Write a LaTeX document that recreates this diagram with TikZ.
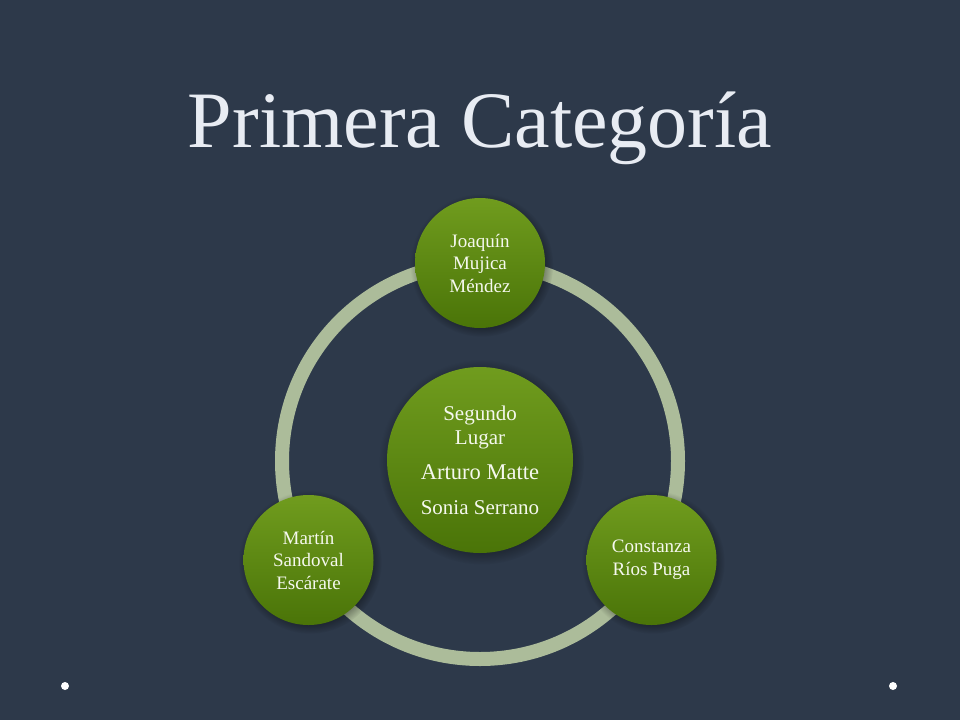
\documentclass[tikz,border=0pt]{standalone}
\usepackage{fontspec}
\setmainfont{Liberation Serif}
\usetikzlibrary{shadows}
\definecolor{bg}{RGB}{45,57,74}
\definecolor{gtop}{RGB}{112,156,30}
\definecolor{gbot}{RGB}{74,116,8}
\definecolor{ringc}{RGB}{172,188,154}
\definecolor{txt}{RGB}{245,248,238}
\definecolor{titlec}{RGB}{232,236,243}
\tikzset{
  greenball/.style={circle, shading=axis, top color=gtop, bottom color=gbot, shading angle=0,
    draw=none, text=txt, align=center, inner sep=0pt,
    circular drop shadow={shadow xshift=1.5pt, shadow yshift=-2pt, opacity=0.35, fill=black}},
  bigball/.style={greenball, minimum size=186pt, font=\fontsize{21}{24}\selectfont},
  smallball/.style={greenball, minimum size=130pt, font=\fontsize{19}{22.5}\selectfont},
  ringline/.style={draw=ringc, line width=14pt},
  dotm/.style={circle, fill=white, inner sep=0pt, minimum width=6pt, minimum height=8pt}
}
\begin{document}
\begin{tikzpicture}[x=1pt,y=-1pt]
\fill[bg] (0,0) rectangle (960,720);
\useasboundingbox (0,0) rectangle (960,720);
% title
\node[anchor=base, text=titlec, font=\fontsize{80}{90}\selectfont] (title) at (480,147) {Primera Categoría};
% ring
\coordinate (o) at (480,461);
\draw[ringline] (o) circle (198);
\node[smallball] (n1) at (480,263) {Joaquín\\Mujica\\Méndez};
\node[smallball] (n2) at (651.5,560) {Constanza\\Ríos Puga};
\node[smallball] (n3) at (308.5,560) {Martín\\Sandoval\\Escárate};
\node[bigball] (c) at (480,460) {Segundo\\Lugar\\[11pt]{\fontsize{22.5}{24}\selectfont Arturo Matte}\\[11pt]Sonia Serrano};
% dots
\node[dotm] (d1) at (65,686) {};
\node[dotm] (d2) at (893,686) {};
\end{tikzpicture}
\end{document}
